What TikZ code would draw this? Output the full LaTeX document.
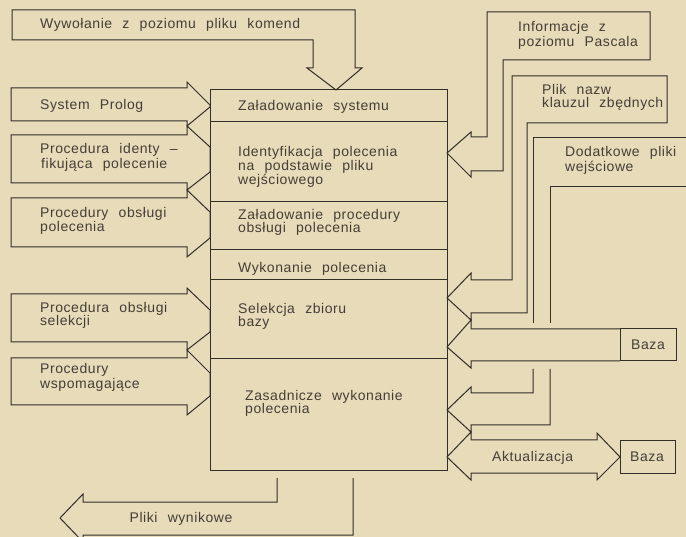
\documentclass[tikz,border=0pt]{standalone}
\usepackage{fontspec}
\newfontfamily\lbfont[LetterSpace=4,WordSpace=2.3]{Liberation Sans}
\definecolor{paper}{RGB}{232,219,185}
\definecolor{ink}{RGB}{50,46,40}
\definecolor{tink}{RGB}{68,63,54}
\begin{document}
\begin{tikzpicture}[x=1pt,y=-1pt,
  ln/.style={draw=ink,line width=1pt,line join=miter},
  lbl/.style={anchor=base west,inner sep=0pt,text=tink,font=\lbfont\fontsize{14}{15}\selectfont},
  clbl/.style={lbl,anchor=base}]
\useasboundingbox (0,0) rectangle (686,537);
\fill[paper] (0,0) rectangle (686,537);
\clip (0,0) rectangle (686,537);

% main box and separators
\draw[ln] (210,90) rectangle (447,470);
\foreach \yy in {122,202,250,280,359} \draw[ln] (210,\yy) -- (447,\yy);

% main box texts
\node[lbl] (m1) at (238,111) {Załadowanie systemu};
\node[lbl] (m2a) at (238,157) {Identyfikacja polecenia};
\node[lbl] (m2b) at (238,171) {na podstawie pliku};
\node[lbl] (m2c) at (238,185) {wejściowego};
\node[lbl] (m3a) at (238,220) {Załadowanie procedury};
\node[lbl] (m3b) at (238,233) {obsługi polecenia};
\node[lbl] (m4) at (238,273) {Wykonanie polecenia};
\node[lbl] (m5a) at (238,314) {Selekcja zbioru};
\node[lbl] (m5b) at (238,327) {bazy};
\node[lbl] (m6a) at (245,401) {Zasadnicze wykonanie};
\node[lbl] (m6b) at (245,414) {polecenia};

% top arrow
\draw[ln] (12,10)--(355,10)--(355,68)--(362,68)--(336,90)--(307,68)--(313,68)--(313,40)--(12,40)--cycle;
\node[lbl] (top) at (40,29) {Wywołanie z poziomu pliku komend};

% left arrows
\draw[ln] (11,88)--(187,88)--(187,82)--(210,105)--(210,107)--(187,126)--(187,121)--(11,121)--cycle;
\draw[ln] (11,135)--(187,135)--(187,126)--(210,147)--(210,172)--(187,190)--(187,183)--(11,183)--cycle;
\draw[ln] (11,198)--(187,198)--(187,190)--(210,212)--(210,238)--(187,257)--(187,247)--(11,247)--cycle;
\draw[ln] (11,294)--(187,294)--(187,288)--(210,310)--(210,332)--(187,350)--(187,342)--(11,342)--cycle;
\draw[ln] (11,358)--(187,358)--(187,350)--(210,373)--(210,396)--(187,415)--(187,405)--(11,405)--cycle;
\node[lbl] (la) at (40,110) {System Prolog};
\node[lbl] (lb1) at (40,154) {Procedura identy –};
\node[lbl] (lb2) at (41,169) {fikująca polecenie};
\node[lbl] (lc1) at (40,218) {Procedury obsługi};
\node[lbl] (lc2) at (40,232) {polecenia};
\node[lbl] (ld1) at (40,313) {Procedura obsługi};
\node[lbl] (ld2) at (40,326) {selekcji};
\node[lbl] (le1) at (40,374) {Procedury};
\node[lbl] (le2) at (40,389) {wspomagające};

% bottom arrow
\draw[ln] (277,478)--(277,502)--(83,502)--(83,494)--(60,518)--(83,542)--(83,535)--(353,535)--(353,478);
\node[clbl] (out) at (181,522) {Pliki wynikowe};

% right: Informacje
\draw[ln] (487,12)--(650,12)--(650,60)--(503,60)--(503,171)--(471,171)--(471,177)--(447,153)--(471,132)--(471,137)--(487,137)--cycle;
\node[lbl] (r1a) at (518,32) {Informacje z};
\node[lbl] (r1b) at (518,47) {poziomu Pascala};

% right: Plik nazw
\draw[ln] (512,76)--(667,76)--(667,123)--(527,123)--(527,313)--(471,313)--(471,320)--(447,298)--(471,273)--(471,280)--(512,280)--cycle;
\node[lbl] (r2a) at (542,95) {Plik nazw};
\node[lbl] (r2b) at (542,108) {klauzul zbędnych};

% right: Dodatkowe
\draw[ln] (700,138)--(533,138)--(533,323) (550,323)--(550,187)--(700,187);
\draw[ln] (533,369)--(533,393)--(471,393)--(471,387)--(447,410)--(471,432)--(471,425)--(550,425)--(550,369);
\node[lbl] (r3a) at (565,157) {Dodatkowe pliki};
\node[lbl] (r3b) at (565,172) {wejściowe};

% Baza upper
\draw[ln] (620,329) rectangle (676,361);
\node[clbl] (baza1) at (648,350) {Baza};
\draw[ln] (620,329)--(471,329)--(471,320)--(447,347)--(471,368)--(471,361)--(620,361);

% Aktualizacja
\draw[ln] (471,440)--(597,440)--(597,433)--(620,457)--(597,480)--(597,473)--(471,473)--(471,480)--(447,457)--(471,432)--cycle;
\node[lbl] (akt) at (492,461) {Aktualizacja};
\draw[ln] (620,441) rectangle (675,473);
\node[clbl] (baza2) at (647,461) {Baza};
\end{tikzpicture}
\end{document}
